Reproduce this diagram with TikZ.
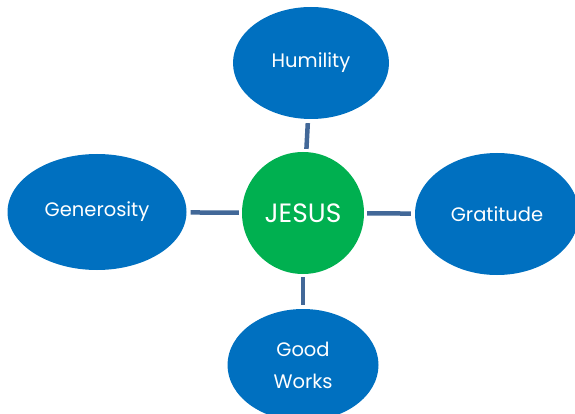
\documentclass[tikz,border=0pt]{standalone}
\usepackage{fontspec}
\setmainfont{Poppins}
\usetikzlibrary{shapes.geometric}
\definecolor{virtueblue}{RGB}{0,112,192}
\definecolor{hubgreen}{RGB}{0,176,80}
\definecolor{linkblue}{RGB}{66,104,152}

\begin{document}
\begin{tikzpicture}[
      x=1pt, y=-1pt,
      every node/.style={font=\fontsize{19.5}{24}\selectfont, text=white},
      virtue/.style={ellipse, fill=virtueblue, inner sep=0pt, align=center},
      hub/.style={circle, fill=hubgreen, inner sep=0pt, minimum size=122pt, font=\fontsize{26.5}{30}\selectfont},
      link/.style={draw=linkblue, line width=4.5pt, shorten <=4pt, shorten >=3pt}
  ]
    \useasboundingbox (0,0) rectangle (575,414);
    \node[hub] (jesus) at (303,213) {JESUS};
    \node[virtue, minimum width=156pt, minimum height=112pt] (humility) at (311,63) {Humility};
    \node[virtue, minimum width=179pt, minimum height=116pt] (generosity) at (97,212) {Generosity};
    \node[virtue, minimum width=164pt, minimum height=122pt] (gratitude) at (497,214) {Gratitude};
    \node[virtue, minimum width=151pt, minimum height=112pt] (works) at (303,365) {Good\\[8pt]Works};
    \draw[link] (humility) -- (jesus);
    \draw[link] (generosity) -- (jesus);
    \draw[link] (gratitude) -- (jesus);
    \draw[link] (works) -- (jesus);
  \end{tikzpicture}
\end{document}
